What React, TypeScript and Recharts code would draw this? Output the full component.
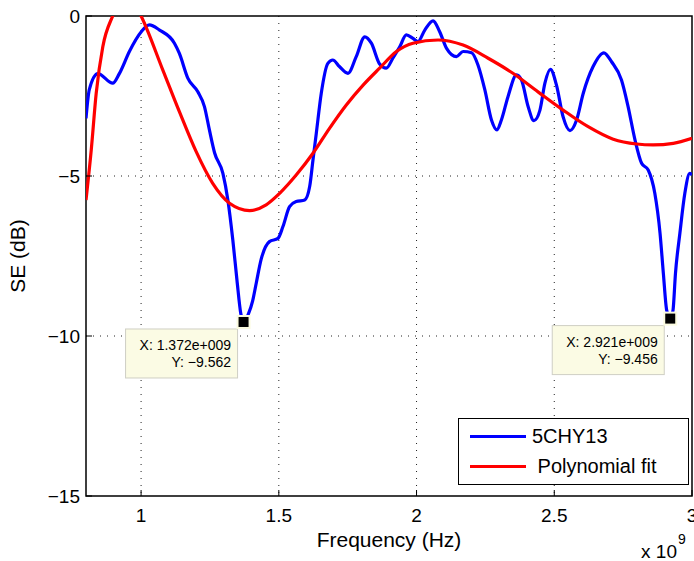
import { CartesianGrid, Legend, Line, LineChart, ReferenceArea, ReferenceDot, XAxis, YAxis } from "recharts";

const FONT = '"Liberation Sans", Arial, Helvetica, sans-serif';

// frequency in units of 1e9 Hz
const xTicks = [1, 1.5, 2, 2.5, 3];
const yTicks = [-15, -10, -5, 0];
const seriesNames = ["5CHY13", " Polynomial fit"];

const measuredFreq = [
  0.8, 0.812, 0.843, 0.897, 0.921, 0.958, 1.0, 1.03, 1.067, 1.121, 1.139, 1.17, 1.206, 1.23, 1.248,
  1.267, 1.297, 1.315, 1.333, 1.348, 1.362, 1.372, 1.39, 1.405, 1.418, 1.436, 1.466, 1.497, 1.515,
  1.539, 1.563, 1.594, 1.612, 1.624, 1.636, 1.654, 1.678, 1.696, 1.72, 1.751, 1.781, 1.812, 1.836,
  1.866, 1.89, 1.914, 1.939, 1.963, 1.987, 2.005, 2.03, 2.06, 2.084, 2.109, 2.145, 2.169, 2.2, 2.223,
  2.248, 2.272, 2.292, 2.308, 2.332, 2.363, 2.381, 2.405, 2.426, 2.448, 2.466, 2.486, 2.508, 2.532,
  2.557, 2.581, 2.605, 2.641, 2.68, 2.708, 2.744, 2.768, 2.793, 2.817, 2.841, 2.865, 2.884, 2.896,
  2.908, 2.921, 2.931, 2.94, 2.956, 2.974, 2.992, 3.0,
];
const measuredSE = [
  -3.2, -2.3, -1.8, -2.1, -1.8, -1.1, -0.5, -0.28, -0.44, -0.85, -1.17, -1.95, -2.37, -2.83, -3.56,
  -4.28, -4.92, -5.75, -7.0, -8.25, -9.3, -9.562, -9.3, -8.9, -8.35, -7.6, -7.05, -6.95, -6.58,
  -5.96, -5.8, -5.75, -5.33, -4.5, -3.67, -2.42, -1.48, -1.375, -1.58, -1.79, -1.27, -0.65, -0.85,
  -1.5, -1.63, -1.32, -0.96, -0.59, -0.7, -0.8, -0.44, -0.15, -0.49, -1.01, -1.27, -1.11, -1.15, -1.53,
  -2.31, -3.25, -3.56, -3.25, -2.52, -1.84, -2.0, -2.83, -3.27, -2.94, -2.1, -1.67, -2.16, -3.15,
  -3.58, -3.25, -2.42, -1.58, -1.15, -1.43, -2.0, -2.83, -3.87, -4.6, -4.81, -5.54, -6.79, -8.04,
  -9.19, -9.456, -9.2, -8.04, -6.79, -5.54, -4.92, -4.97,
];

const fitFreq = [
  0.8, 0.819, 0.837, 0.861, 0.897, 0.925, 0.95, 0.975, 1.0, 1.079, 1.139, 1.2, 1.26, 1.321, 1.394,
  1.454, 1.503, 1.563, 1.624, 1.684, 1.745, 1.806, 1.866, 1.927, 1.987, 2.078, 2.169, 2.26, 2.35,
  2.441, 2.532, 2.623, 2.714, 2.799, 2.859, 2.932, 3.0,
];
const fitSE = [
  -5.75, -4.19, -2.42, -0.96, 0.0, 0.5, 0.6, 0.4, 0.0, -1.69, -2.99, -4.24, -5.23, -5.85, -6.08,
  -5.9, -5.54, -4.97, -4.29, -3.51, -2.78, -2.16, -1.63, -1.11, -0.85, -0.75, -0.91, -1.32, -1.79,
  -2.37, -2.94, -3.46, -3.85, -4.0, -4.03, -3.98, -3.82,
];

const tipFreq = [1.372, 2.921];
const tipSE = [-9.562, -9.456];
const tipXText = ["X: 1.372e+009", "X: 2.921e+009"];
const tipYText = ["Y: \u22129.562", "Y: \u22129.456"];

const measuredData = measuredFreq.map((f, i) => ({ f, se: measuredSE[i] }));
const fitData = fitFreq.map((f, i) => ({ f, se: fitSE[i] }));

const fmtY = (v: number) => (v < 0 ? `\u2212${Math.abs(v)}` : String(v));

function BottomTick({ x, y, payload }: any) {
  return (
    <g>
      <line x1={x} y1={y} x2={x} y2={y - 6} stroke="#000" />
      <text x={x} y={y + 26} textAnchor="middle" fontSize={19} fontFamily={FONT} fill="#000">
        {payload.value}
      </text>
    </g>
  );
}

function LeftTick({ x, y, payload }: any) {
  return (
    <g>
      <line x1={x} y1={y} x2={x + 6} y2={y} stroke="#000" />
      <text x={x - 6} y={y + 7} textAnchor="end" fontSize={19} fontFamily={FONT} fill="#000">
        {fmtY(payload.value)}
      </text>
    </g>
  );
}

function TopTick({ x, y }: any) {
  return <line x1={x} y1={y} x2={x} y2={y + 6} stroke="#000" />;
}

function RightTick({ x, y }: any) {
  return <line x1={x} y1={y} x2={x - 6} y2={y} stroke="#000" />;
}

function DataTip({ cx, cy, i }: any) {
  return (
    <g fontFamily={FONT} fontSize={14}>
      <rect x={cx - 118} y={cy + 7} width={112} height={49} fill="#fbfbe4" stroke="#cfcfc4" />
      <text x={cx - 12.5} y={cy + 28.5} textAnchor="end" fill="#000">
        {tipXText[i]}
      </text>
      <text x={cx - 12.5} y={cy + 45.5} textAnchor="end" fill="#000">
        {tipYText[i]}
      </text>
      <rect x={cx - 7} y={cy - 7} width={14} height={14} fill="#fbfbe0" />
      <rect x={cx - 5} y={cy - 5} width={10} height={10} fill="#000" />
    </g>
  );
}

function LegendBox({ payload }: any) {
  const items = [...(payload || [])].sort(
    (a: any, b: any) => seriesNames.indexOf(a.value) - seriesNames.indexOf(b.value),
  );
  return (
    <div
      style={{
        boxSizing: "border-box",
        width: 231,
        height: 67,
        border: "1px solid #000",
        background: "#fff",
        position: "relative",
        fontFamily: FONT,
        fontSize: 20,
        color: "#000",
      }}
    >
      {items.map((p: any, i: number) => (
        <div
          key={i}
          style={{
            position: "absolute",
            left: 11,
            top: 5 + i * 30,
            height: 24,
            display: "flex",
            alignItems: "center",
          }}
        >
          <div style={{ width: 56, height: 3, background: p.color }} />
          <span style={{ marginLeft: 6, whiteSpace: "pre", lineHeight: "24px" }}>{p.value}</span>
        </div>
      ))}
    </div>
  );
}

function XLabel({ viewBox }: any) {
  const { x, y, width } = viewBox;
  return (
    <g fontFamily={FONT} fill="#000">
      <text x={x + width / 2} y={y + 51} textAnchor="middle" fontSize={21}>
        Frequency (Hz)
      </text>
      <text x={x + width - 15} y={y + 62} textAnchor="end" fontSize={19}>
        x 10
      </text>
      <text x={x + width - 14} y={y + 48} textAnchor="start" fontSize={14}>
        9
      </text>
    </g>
  );
}

function YLabel({ viewBox }: any) {
  const { y, height } = viewBox;
  const cx = 25;
  const cy = y + height / 2;
  return (
    <text
      x={cx}
      y={cy}
      transform={`rotate(-90, ${cx}, ${cy})`}
      textAnchor="middle"
      fontSize={21}
      fontFamily={FONT}
      fill="#000"
    >
      SE (dB)
    </text>
  );
}

export default function App() {
  return (
    <div style={{ position: "absolute", left: 0, top: 0, background: "#fff" }}>
      <LineChart width={694} height={561} margin={{ top: 16, right: 2, bottom: 0, left: 0 }}>
        <CartesianGrid
          stroke="#222"
          strokeDasharray="1 6"
          verticalValues={[1, 1.5, 2, 2.5]}
          horizontalValues={[-10, -5]}
        />
        <XAxis
          dataKey="f"
          type="number"
          domain={[0.8, 3]}
          ticks={xTicks}
          allowDataOverflow
          height={65}
          tickSize={0}
          tickMargin={0}
          tickLine={false}
          axisLine={false}
          tick={<BottomTick />}
          interval={0}
          label={<XLabel />}
        />
        <XAxis
          xAxisId="top"
          orientation="top"
          type="number"
          domain={[0.8, 3]}
          ticks={xTicks}
          height={0}
          tickSize={0}
          tickMargin={0}
          tickLine={false}
          axisLine={false}
          tick={<TopTick />}
          interval={0}
        />
        <YAxis
          type="number"
          domain={[-15, 0]}
          ticks={yTicks}
          allowDataOverflow
          width={86}
          tickSize={0}
          tickMargin={0}
          tickLine={false}
          axisLine={false}
          tick={<LeftTick />}
          interval={0}
          label={<YLabel />}
        />
        <YAxis
          yAxisId="right"
          orientation="right"
          type="number"
          domain={[-15, 0]}
          ticks={yTicks}
          width={0}
          tickSize={0}
          tickMargin={0}
          tickLine={false}
          axisLine={false}
          tick={<RightTick />}
          interval={0}
        />
        <ReferenceArea x1={0.8} x2={3} y1={-15} y2={0} fill="none" stroke="#000" strokeWidth={1.5} />
        <Line
          data={measuredData}
          dataKey="se"
          name={seriesNames[0]}
          type="monotone"
          stroke="#0000ff"
          strokeWidth={3.2}
          dot={false}
          activeDot={false}
          isAnimationActive={false}
        />
        <Line
          data={fitData}
          dataKey="se"
          name={seriesNames[1]}
          type="monotone"
          stroke="#ff0000"
          strokeWidth={3.2}
          dot={false}
          activeDot={false}
          isAnimationActive={false}
        />
        {tipFreq.map((f, i) => (
          <ReferenceDot
            key={i}
            x={f}
            y={tipSE[i]}
            r={5}
            shape={(p: any) => <DataTip {...p} i={i} />}
          />
        ))}
        <Legend
          layout="vertical"
          align="center"
          verticalAlign="middle"
          content={<LegendBox />}
          wrapperStyle={{ left: 458, top: 418, width: 231, height: 67 }}
        />
      </LineChart>
    </div>
  );
}
